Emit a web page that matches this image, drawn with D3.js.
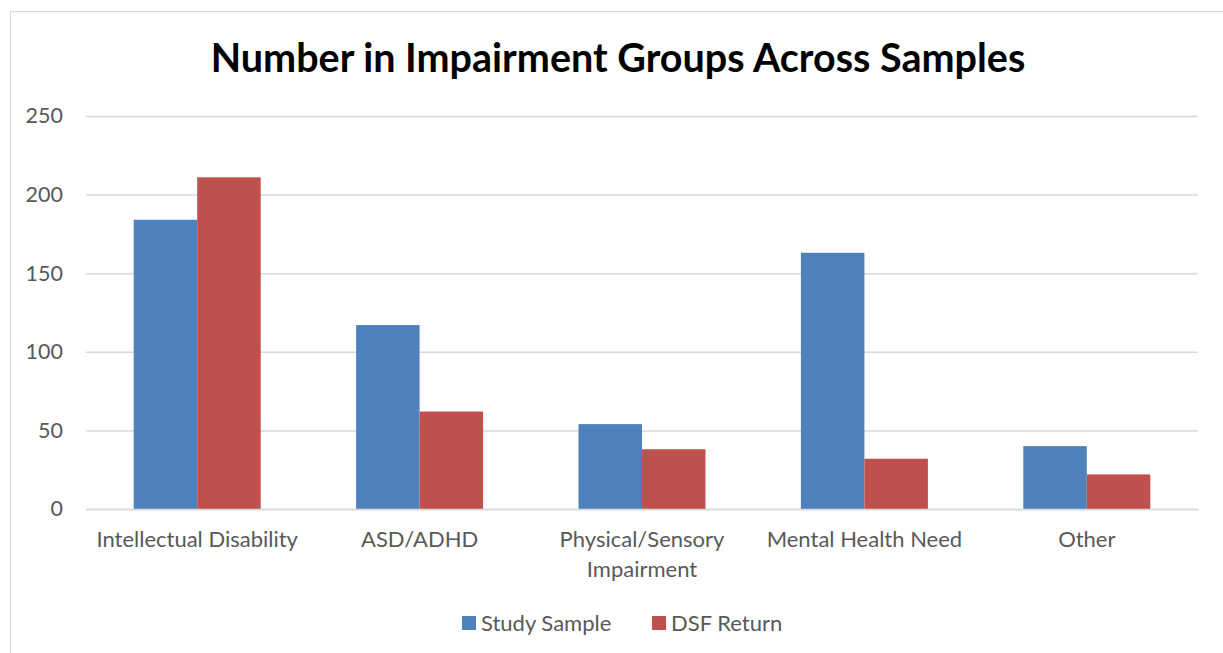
<!DOCTYPE html>
<html>
<head>
<meta charset="utf-8">
<script src="https://cdn.jsdelivr.net/npm/d3@7"></script>
<style>
  body { margin: 0; background: #fff; }
  svg { display: block; font-family: Lato, "Open Sans", sans-serif; }
</style>
</head>
<body>
<svg class="chart" width="1223" height="653"></svg>
<script>
// data
var categories = ["Intellectual Disability", "ASD/ADHD", "Physical/Sensory Impairment", "Mental Health Need", "Other"];
var seriesNames = ["Study Sample", "DSF Return"];
var studySample = [184, 117, 54, 163, 40];
var dsfReturn = [211, 62, 38, 32, 22];
var yTicks = [0, 50, 100, 150, 200, 250];
var colors = ["#4f81bd", "#c0504d"];

var chart = d3.select("svg.chart"),
    margin = {top: 116, left: 86, right: 25, bottom: 144},
    width = 1223 - margin.left - margin.right,
    height = 653 - margin.top - margin.bottom;

// outer frame
chart.append("rect")
  .attr("x", 10.5).attr("y", 11.5)
  .attr("width", 1240).attr("height", 700)
  .attr("fill", "none").attr("stroke", "#d9d9d9");

chart.append("text")
  .attr("x", 618).attr("y", 72)
  .attr("text-anchor", "middle")
  .attr("font-size", 39.5).attr("font-weight", "bold")
  .attr("fill", "#000")
  .text("Number in Impairment Groups Across Samples");

var g = chart.append("g").attr("transform", "translate(" + margin.left + "," + margin.top + ")");

var xScale = d3.scaleBand().domain(categories).range([0, width]).paddingInner(0).paddingOuter(0);
var xInner = d3.scaleBand().domain(seriesNames).range([0, 127]);
var yScale = d3.scaleLinear().domain([0, 250]).range([height, 0]);

// gridlines + y labels
var yAxis = d3.axisLeft(yScale).tickValues(yTicks).tickSize(-width).tickPadding(23);
g.append("g").attr("id", "yAxisG").call(yAxis)
  .call(function(s) {
    s.select(".domain").remove();
    s.selectAll("line").attr("stroke", "#d9d9d9").attr("stroke-width", 1.5);
    s.selectAll("text").attr("font-size", 21.5).attr("fill", "#595959").attr("font-family", "Lato, sans-serif");
  });

var rows = categories.map(function(c, i) { return {cat: c, vals: [studySample[i], dsfReturn[i]]}; });

var groups = g.selectAll("g.grp")
  .data(rows)
  .enter()
  .append("g").attr("class", "grp")
  .attr("transform", function(d) { return "translate(" + (xScale(d.cat) + (xScale.bandwidth() - 127) / 2) + ",0)"; });

groups.selectAll("rect")
  .data(function(d) { return d.vals.map(function(v, i) { return {name: seriesNames[i], v: v, i: i}; }); })
  .enter()
  .append("rect")
  .attr("x", function(d) { return xInner(d.name); })
  .attr("width", xInner.bandwidth())
  .attr("y", function(d) { return yScale(d.v); })
  .attr("height", function(d) { return height - yScale(d.v); })
  .attr("fill", function(d) { return colors[d.i]; });

// x labels (wrap the long one like the original)
var xLabels = {"Physical/Sensory Impairment": ["Physical/Sensory", "Impairment"]};
var xAxis = d3.axisBottom(xScale).tickSize(0).tickFormat("");
var xg = g.append("g").attr("id", "xAxisG").attr("transform", "translate(0," + height + ")").call(xAxis);
xg.select(".domain").attr("stroke", "#d9d9d9").attr("stroke-width", 1.5);
xg.selectAll(".tick").append("text")
  .attr("text-anchor", "middle").attr("font-size", 22).attr("fill", "#595959")
  .attr("font-family", "Lato, sans-serif")
  .each(function(d) {
    var lines = xLabels[d] || [d];
    var t = d3.select(this);
    lines.forEach(function(l, k) {
      t.append("tspan").attr("x", 0).attr("y", 38 + k * 30).text(l);
    });
  });

// legend
var legend = chart.append("g").attr("transform", "translate(462,616)");
var items = [{x: 0}, {x: 190}];
seriesNames.forEach(function(n, i) {
  var it = legend.append("g").attr("transform", "translate(" + items[i].x + ",0)");
  it.append("rect").attr("width", 14).attr("height", 14).attr("fill", colors[i]);
  it.append("text").attr("x", 19).attr("y", 14.5).attr("font-size", 22).attr("fill", "#595959").text(n);
});
</script>
</body>
</html>
